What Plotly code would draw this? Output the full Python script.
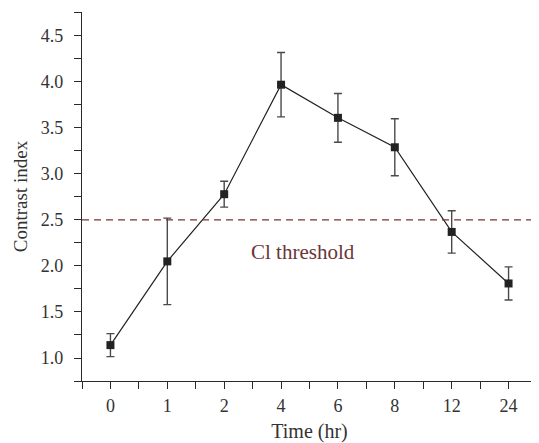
import plotly.graph_objects as go

categories = ["0", "1", "2", "4", "6", "8", "12", "24"]
contrast = [1.14, 2.05, 2.78, 3.97, 3.61, 3.29, 2.37, 1.81]
errors = [0.125, 0.47, 0.14, 0.35, 0.265, 0.31, 0.23, 0.18]
threshold = 2.5
threshold_label = "Cl threshold"

xpos = list(range(len(categories)))
FONT = "Liberation Serif"
INK = "#2a2a2a"

fig = go.Figure()
fig.add_trace(go.Scatter(
    x=xpos, y=contrast, mode="lines+markers",
    line=dict(color="#222222", width=1.2),
    marker=dict(symbol="square", size=8, color="#222222"),
    error_y=dict(type="data", array=errors, visible=True, color="#4a4a4a", thickness=1.4, width=4),
    showlegend=False,
))

fig.add_shape(type="line", xref="paper", yref="y", x0=0, x1=1.01, y0=threshold, y1=threshold,
              line=dict(color="#733636", width=1.2, dash="7px,5px"))
fig.add_annotation(x=3.39, y=2.15, xref="x", yref="y", text=threshold_label, showarrow=False,
                   font=dict(family=FONT, size=21, color="#6b3535"))

fig.update_layout(
    width=531, height=435,
    margin=dict(l=74, r=2, t=4, b=59),
    plot_bgcolor="white", paper_bgcolor="white",
    font=dict(family=FONT, size=18, color="#333333"),
)
fig.update_xaxes(
    range=[-0.5, 7.5], tickmode="array", tickvals=xpos, ticktext=categories,
    showline=True, linecolor=INK, linewidth=1.2, ticks="outside", ticklen=7,
    tickcolor=INK, showgrid=False, zeroline=False, ticklabelstandoff=1,
    minor=dict(tickvals=[i + 0.5 for i in xpos] + [-0.5], ticks="outside", ticklen=7, tickcolor=INK, showgrid=False),
    title=dict(text="Time (hr)", font=dict(size=20), standoff=11),
)
fig.update_yaxes(
    range=[0.75, 4.76], tickmode="linear", tick0=1.0, dtick=0.5, tickformat=".1f",
    showline=True, linecolor=INK, linewidth=1.2, ticks="outside", ticklen=7,
    tickcolor=INK, showgrid=False, zeroline=False, ticklabelstandoff=7,
    minor=dict(dtick=0.25, ticks="outside", ticklen=7, tickcolor=INK, showgrid=False),
    title=dict(text="Contrast index", font=dict(size=19), standoff=8),
)

fig.write_html("out.html")
